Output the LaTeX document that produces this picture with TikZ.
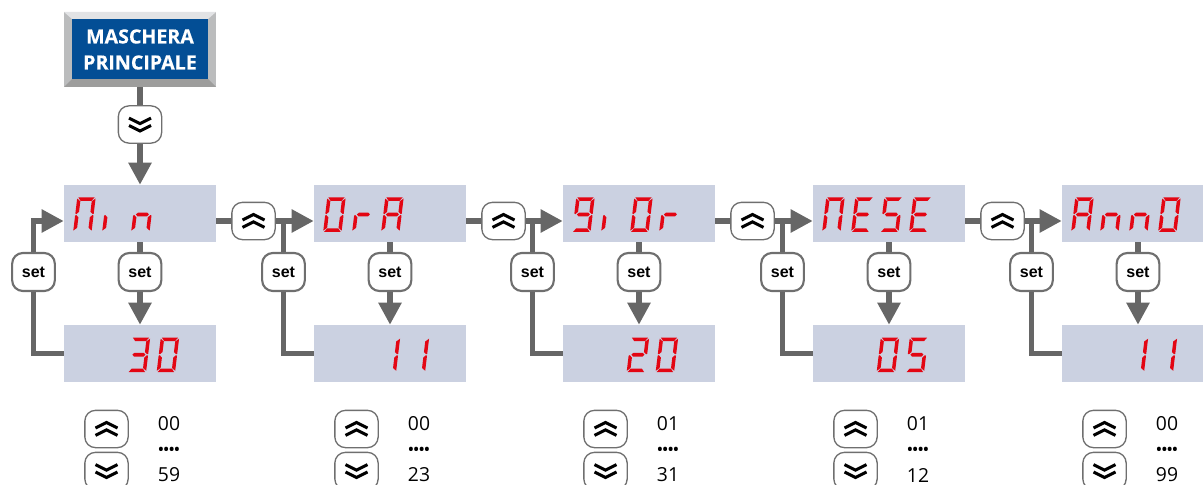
\documentclass[tikz,border=0pt]{standalone}
\usepackage{fontspec}
\setmainfont{Open Sans}
\newfontfamily\setfont{Liberation Sans}
\newfontfamily\maskfont[FakeBold=0.4]{Open Sans Bold}
\usetikzlibrary{arrows.meta}
\definecolor{dispbg}{HTML}{CBD1E1}
\definecolor{conngray}{HTML}{666666}
\definecolor{btngray}{HTML}{6F6F6F}
\definecolor{ledred}{HTML}{E30613}
\definecolor{maskblue}{HTML}{034E95}
\definecolor{bevtop}{HTML}{E2E3E5}
\definecolor{bevside}{HTML}{BBBCBD}
\definecolor{bevbot}{HTML}{9D9D9C}
\tikzset{
  x=0.75pt,y=-0.75pt,
  display/.style={rectangle,fill=dispbg,minimum width=114pt,minimum height=42.75pt,inner sep=0pt,text opacity=0,font=\Large},
  conn/.style={draw=conngray,line width=4pt},
  connarrow/.style={conn,-{Triangle[length=16.5pt,width=16.5pt]}},
  chevbtn/.style={rectangle,draw=btngray,fill=white,line width=1pt,rounded corners=8pt,minimum width=32.5pt,minimum height=28pt,inner sep=0pt},
  setbtn/.style={rectangle,draw=btngray,fill=white,line width=1.6pt,rounded corners=8pt,minimum width=32pt,minimum height=28.5pt,inner sep=0pt,font=\setfont\bfseries\fontsize{12}{12}\selectfont},
  chev/.style={draw=black,line width=2.3pt,miter limit=10},
  led/.style={fill=ledred},
  rangetext/.style={inner sep=0pt,font=\fontsize{14.5}{14.5}\selectfont},
  dotstext/.style={inner sep=0pt,font=\bfseries\fontsize{10.5}{10.5}\selectfont},
  maskframe/.style={rectangle,fill=bevside,minimum width=114pt,minimum height=56.25pt,inner sep=0pt},
  maskface/.style={rectangle,fill=maskblue,text=white,minimum width=102pt,minimum height=45pt,inner sep=0pt,align=center,font=\maskfont\fontsize{14.7}{19.5}\selectfont},
}
% seven-segment display: segments in local px, y downwards
\newcommand\LEDa{\fill[led] (0.8,0)--(17.2,0)--(14.5,3.5)--(3.5,3.5)--cycle;}
\newcommand\LEDd{\fill[led] (0.8,34.5)--(17.2,34.5)--(14.5,31)--(3.5,31)--cycle;}
\newcommand\LEDg{\fill[led] (2.5,17.2)--(4.2,15.4)--(13.8,15.4)--(15.5,17.2)--(13.8,19)--(4.2,19)--cycle;}
\newcommand\LEDf{\fill[led] (-0.2,1.2)--(3.3,4)--(3.3,14.5)--(0.9,16.8)--(-0.2,16.2)--cycle;}
\newcommand\LEDb{\fill[led] (18.2,1.2)--(14.7,4)--(14.7,14.5)--(17.1,16.8)--(18.2,16.2)--cycle;}
\newcommand\LEDe{\fill[led] (-0.2,33.3)--(3.3,30.5)--(3.3,20)--(0.9,17.7)--(-0.2,18.3)--cycle;}
\newcommand\LEDc{\fill[led] (18.2,33.3)--(14.7,30.5)--(14.7,20)--(17.1,17.7)--(18.2,18.3)--cycle;}
\newcommand\ledglyph[3]{\begin{scope}[shift={(#1,#2)},xslant=0.12]\edef\seglist{#3}\foreach \s in \seglist {\csname LED\s\endcsname}\end{scope}}
\newcommand\chevup[1]{\draw[chev] ([shift={(-11,-1)}]#1.center)--([shift={(0,-6.5)}]#1.center)--([shift={(11,-1)}]#1.center);
  \draw[chev] ([shift={(-11,6.4)}]#1.center)--([shift={(0,0.9)}]#1.center)--([shift={(11,6.4)}]#1.center);}
\newcommand\chevdown[1]{\draw[chev] ([shift={(-11,1)}]#1.center)--([shift={(0,6.5)}]#1.center)--([shift={(11,1)}]#1.center);
  \draw[chev] ([shift={(-11,-6.4)}]#1.center)--([shift={(0,-0.9)}]#1.center)--([shift={(11,-6.4)}]#1.center);}
\begin{document}
\begin{tikzpicture}
\useasboundingbox (0,0) rectangle (1203,485);
\clip (0,0) rectangle (1203,485);
% main mask
\node[maskframe] (main) at (140,49.5) {};
\fill[bevtop] (64,12)--(216,12)--(208,19)--(72,19)--cycle;
\fill[bevbot] (64,87)--(216,87)--(208,79)--(72,79)--cycle;
\node[maskface] (face) at (main) {MASCHERA\\PRINCIPALE};
\node[chevbtn] (dn0) at (140,124.5) {};
\chevdown{dn0}
% columns
\foreach \n/\X/\Ttxt/\Btxt/\lo/\hi in {1/64/Min/30/00/59,2/314/OrA/11/00/23,3/563/giOr/20/01/31,4/813/MESE/05/01/12,5/1062/AnnO/11/00/99}{
  \node[display] (t\n) at (\X+76,213.5) {\Ttxt};
  \node[display] (b\n) at (\X+76,353.5) {\Btxt};
  \node[setbtn] (sd\n) at (\X+76,272) {set};
  \node[setbtn] (sl\n) at (\X-30.5,272) {set};
  \node[chevbtn] (lu\n) at (\X+42.5,429) {};
  \chevup{lu\n}
  \node[chevbtn] (ld\n) at (\X+42.5,471) {};
  \chevdown{ld\n}
  \node[rangetext] (lo\n) at (\X+105,424) {\lo};
  \node[dotstext] (dots\n) at (\X+105,451) {••••};
  \node[rangetext] (hi\n) at (\X+105,475) {\hi};
  \draw[conn] (t\n) -- (sd\n);
  \draw[connarrow] (sd\n) -- (b\n.north);
  \draw[conn] (b\n.west) -| (sl\n);
}
\foreach \n/\X in {1/64,2/314,3/563,4/813}{
  \pgfmathtruncatemacro\nx{\n+1}
  \node[chevbtn] (up\n) at (\X+189.5,221) {};
  \chevup{up\n}
  \draw[conn] (t\n.east |- up\n) -- (up\n);
  \draw[connarrow] (up\n) -- (t\nx.west |- up\n);
  \draw[conn] (sl\nx) -- (sl\nx |- up\n);
}
\draw[conn] (main) -- (dn0);
\draw[connarrow] (dn0) -- (t1.north);
\draw[conn] (sl1) -- (sl1 |- up1);
\draw[connarrow] ([xshift=-2pt]sl1 |- up1) -- (t1.west |- up1);
% LED glyphs
\def\gA{a,b,c,e,f,g}\def\gE{a,d,e,f,g}\def\gM{a,b,c,e,f}\def\gO{a,b,c,d,e,f}\def\gS{a,c,d,f,g}
\def\gn{c,e,g}\def\gr{e,g}\def\gi{e}\def\gnine{a,b,c,d,f,g}\def\gone{b,c}\def\gtwo{a,b,d,e,g}\def\gthree{a,b,c,d,g}
\foreach \X/\a/\b/\c/\d in {64/\gM/\gi/\gn/,314/\gO/\gr/\gA/,563/\gnine/\gi/\gO/\gr,813/\gM/\gE/\gS/\gE,1062/\gA/\gn/\gn/\gO}{
  \ledglyph{\X+13.5}{197.3}{\a}
  \ledglyph{\X+42.5}{197.3}{\b}
  \ledglyph{\X+71.5}{197.3}{\c}
  \ifx\d\empty\else\ledglyph{\X+100.5}{197.3}{\d}\fi
}
\foreach \X/\a/\b in {64/\gthree/\gO,314/\gone/\gone,563/\gtwo/\gO,813/\gO/\gS,1062/\gone/\gone}{
  \ledglyph{\X+68}{337.5}{\a}
  \ledglyph{\X+97}{337.5}{\b}
}
\end{tikzpicture}
\end{document}
